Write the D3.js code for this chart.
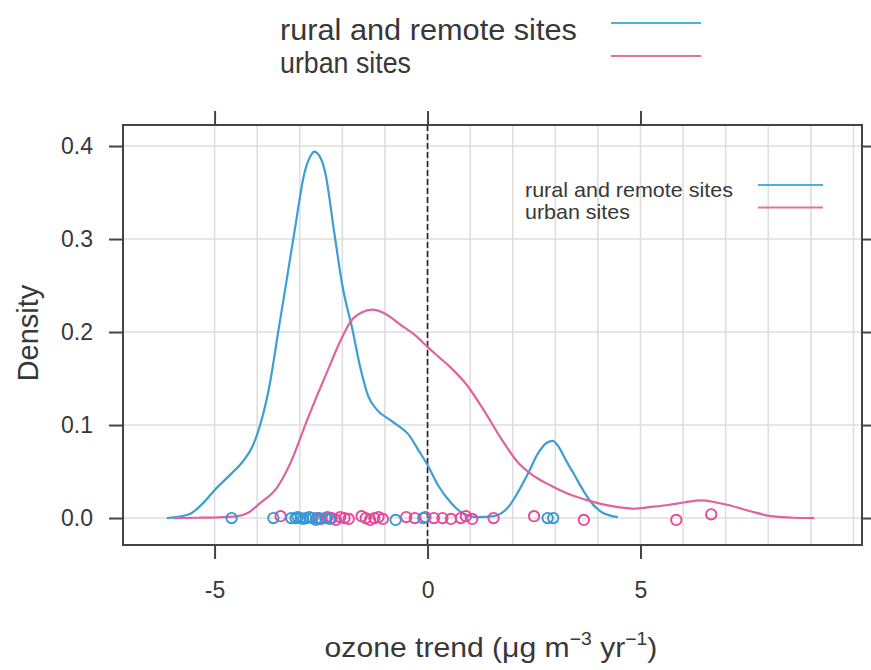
<!DOCTYPE html>
<html>
<head>
<meta charset="utf-8">
<script src="https://cdn.jsdelivr.net/npm/d3@7"></script>
<style>
  body { margin: 0; background: #fff; }
  text { font-family: "Liberation Sans", Arial, sans-serif; fill: #383838; }
</style>
</head>
<body>
<div id="chart"></div>
<script>
// series names
var seriesNames = ["rural and remote sites", "urban sites"];

// density curve: rural and remote sites
var ruralX = [-6.12, -5.6, -5.27, -5.0, -4.6, -4.35, -4.1, -3.93, -3.7, -3.5, -3.3, -3.1, -2.89, -2.75, -2.66,
  -2.5, -2.4, -2.2, -2.0, -1.76, -1.58, -1.4, -1.18, -0.9, -0.71, -0.45, -0.2, 0, 0.25, 0.54, 0.8, 1.18,
  1.55, 1.9, 2.15, 2.35, 2.6, 2.8, 2.94, 3.1, 3.25, 3.44, 3.65, 3.84, 4.1, 4.47];
var ruralD = [0.000, 0.004, 0.016, 0.030, 0.048, 0.060, 0.078, 0.100, 0.145, 0.202, 0.258, 0.315, 0.371, 0.389, 0.394,
  0.386, 0.371, 0.31, 0.25, 0.202, 0.162, 0.132, 0.116, 0.106, 0.100, 0.090, 0.072, 0.057, 0.035, 0.017, 0.006, 0.001,
  0.002, 0.012, 0.030, 0.047, 0.070, 0.081, 0.083, 0.075, 0.062, 0.047, 0.030, 0.017, 0.006, 0.001];

// density curve: urban sites
var urbanX = [-5.98, -5.4, -4.9, -4.56, -4.2, -3.93, -3.53, -3.22, -2.83, -2.6, -2.35, -2.05, -1.81, -1.55, -1.29,
  -1.05, -0.87, -0.64, -0.3, 0, 0.27, 0.54, 0.94, 1.32, 1.72, 2.12, 2.5, 2.89, 3.3, 3.76, 4.3, 4.85, 5.25,
  5.65, 6.05, 6.42, 6.75, 7.06, 7.6, 8.07, 8.6, 9.08];
var urbanD = [0.000, 0.0003, 0.0008, 0.0015, 0.006, 0.016, 0.033, 0.059, 0.105, 0.131, 0.158, 0.19, 0.211, 0.221, 0.224,
  0.221, 0.216, 0.208, 0.197, 0.184, 0.173, 0.162, 0.142, 0.116, 0.086, 0.060, 0.045, 0.035, 0.026, 0.019, 0.013, 0.010, 0.012,
  0.014, 0.017, 0.019, 0.017, 0.014, 0.007, 0.002, 0.0003, 0.000];

// individual site trends (rug points) and their small vertical jitter
var ruralPts = [-4.6, -3.62, -3.2, -3.1, -3.05, -2.98, -2.92, -2.85, -2.78, -2.7, -2.62, -2.55, -2.4, -2.3, -0.75, -0.1, 2.82, 2.95];
var ruralJit = [0, 0, 0, 0, 0.001, 0, -0.001, 0, 0.001, 0, -0.002, 0, 0, -0.001, -0.002, 0, 0, 0];
var urbanPts = [-3.45, -2.6, -2.5, -2.35, -2.25, -2.15, -2.05, -1.95, -1.85, -1.55, -1.45, -1.35, -1.25, -1.15, -1.05,
  -0.5, -0.3, -0.05, 0.15, 0.35, 0.55, 0.78, 0.9, 1.05, 1.55, 2.5, 3.67, 5.84, 6.66];
var urbanJit = [0.002, 0, -0.001, 0.001, 0, -0.002, 0.001, 0, -0.001, 0.002, 0, -0.002, 0, 0.001, -0.001,
  0.001, 0, 0.001, 0, 0, -0.001, 0, 0.002, -0.001, 0, 0.002, -0.002, -0.002, 0.004];

// axis ticks and grid
var xTicks = [-5, 0, 5];
var yTicks = [0, 0.1, 0.2, 0.3, 0.4];
var xGrid = [-5, -4, -3, -2, -1, 0, 1, 2, 3, 4, 5, 6, 7, 8, 9, 10];

var colors = { line: ["#3c9fd3", "#e0639b"], pts: ["#3597d6", "#e6489c"], key: ["#45b2e2", "#e2729f"] };

var svgWidth = 871, svgHeight = 670;
var box = { left: 123, right: 862, top: 125, bottom: 545 };

var svg = d3.select("#chart").append("svg")
  .attr("width", svgWidth)
  .attr("height", svgHeight);

var x = d3.scaleLinear().domain([-7.15, 10.2]).range([box.left, box.right]);
var y = d3.scaleLinear().domain([-0.029, 0.4226]).range([box.bottom, box.top]);

// grid
var grid = svg.append("g").attr("stroke", "#dedede").attr("stroke-width", 1.6);
grid.selectAll("line.v").data(xGrid).enter().append("line")
  .attr("x1", d => x(d)).attr("x2", d => x(d))
  .attr("y1", box.top).attr("y2", box.bottom);
grid.selectAll("line.h").data(yTicks).enter().append("line")
  .attr("x1", box.left).attr("x2", box.right)
  .attr("y1", d => y(d)).attr("y2", d => y(d));

// dashed reference line at zero
svg.append("line")
  .attr("x1", x(0)).attr("x2", x(0))
  .attr("y1", box.top).attr("y2", box.bottom)
  .attr("stroke", "#222").attr("stroke-width", 1.6)
  .attr("stroke-dasharray", "6,3");

// density curves
var line = d3.line().x(d => x(d[0])).y(d => y(d[1])).curve(d3.curveMonotoneX);
var curves = [d3.zip(ruralX, ruralD), d3.zip(urbanX, urbanD)];
curves.forEach(function(c, i) {
  svg.append("path").datum(c)
    .attr("d", line)
    .attr("fill", "none")
    .attr("stroke", colors.line[i])
    .attr("stroke-width", 2.2);
});

// rug points
var rugs = [d3.zip(urbanPts, urbanJit), d3.zip(ruralPts, ruralJit)];
[1, 0].forEach(function(i, k) {
  svg.append("g").selectAll("circle")
    .data(rugs[k]).enter().append("circle")
    .attr("cx", d => x(d[0]))
    .attr("cy", d => y(d[1]))
    .attr("r", 5.2)
    .attr("fill", "none")
    .attr("stroke", colors.pts[i])
    .attr("stroke-width", 1.9);
});

// box
svg.append("rect")
  .attr("x", box.left).attr("y", box.top)
  .attr("width", box.right - box.left).attr("height", box.bottom - box.top)
  .attr("fill", "none").attr("stroke", "#444").attr("stroke-width", 2);

// axes
function styleAxis(g) {
  g.select(".domain").remove();
  g.selectAll(".tick line").attr("stroke", "#444").attr("stroke-width", 2);
  g.selectAll(".tick text").style("font-size", "23px").style("font-family", "'Liberation Sans', Arial, sans-serif").attr("fill", "#383838");
}
svg.append("g").attr("transform", `translate(0,${box.bottom})`)
  .call(d3.axisBottom(x).tickValues(xTicks).tickSize(14).tickPadding(23).tickFormat(d => String(d)))
  .call(styleAxis);
svg.append("g").attr("transform", `translate(0,${box.top})`)
  .call(d3.axisTop(x).tickValues(xTicks).tickSize(14).tickFormat(""))
  .call(styleAxis);
svg.append("g").attr("transform", `translate(${box.left},0)`)
  .call(d3.axisLeft(y).tickValues(yTicks).tickSize(14).tickPadding(16).tickFormat(d3.format(".1f")))
  .call(styleAxis);
svg.append("g").attr("transform", `translate(${box.right},0)`)
  .call(d3.axisRight(y).tickValues(yTicks).tickSize(12).tickFormat(""))
  .call(styleAxis);

// stretch a text element horizontally to a width, about its anchor x
function fitWidth(t, cx, w) {
  var bw = t.node().getBBox().width;
  var s = w / bw;
  t.attr("transform", `translate(${cx},0) scale(${s},1) translate(${-cx},0)`);
}

// axis titles
svg.append("text")
  .attr("transform", "translate(38,333) rotate(-90)")
  .attr("text-anchor", "middle")
  .style("font-size", "29px")
  .text("Density");

var xt = svg.append("text")
  .attr("x", 491).attr("y", 657)
  .attr("text-anchor", "middle")
  .style("font-size", "28px");
xt.append("tspan").text("ozone trend (\u03bcg m");
xt.append("tspan").attr("dy", -12).style("font-size", "18px").text("\u22123");
xt.append("tspan").attr("dy", 12).text(" yr");
xt.append("tspan").attr("dy", -12).style("font-size", "18px").text("\u22121");
xt.append("tspan").attr("dy", 12).text(")");
fitWidth(xt, 491, 333);

// legends (one above the panel, one inside)
function legend(tx, ty, lineX1, lineX2, size, gap, widths, lineOff) {
  seriesNames.forEach(function(name, i) {
    var t = svg.append("text")
      .attr("x", tx).attr("y", ty + i * gap)
      .style("font-size", size + "px")
      .text(name);
    fitWidth(t, tx, widths[i]);
    svg.append("line")
      .attr("x1", lineX1).attr("x2", lineX2)
      .attr("y1", ty + i * gap - lineOff).attr("y2", ty + i * gap - lineOff)
      .attr("stroke", colors.key[i]).attr("stroke-width", 2.2);
  });
}
legend(280, 40, 611, 701, 29, 33, [297, 131], 17);
legend(525, 197, 758, 823, 20.5, 22.5, [208, 105], 12);
</script>
</body>
</html>
